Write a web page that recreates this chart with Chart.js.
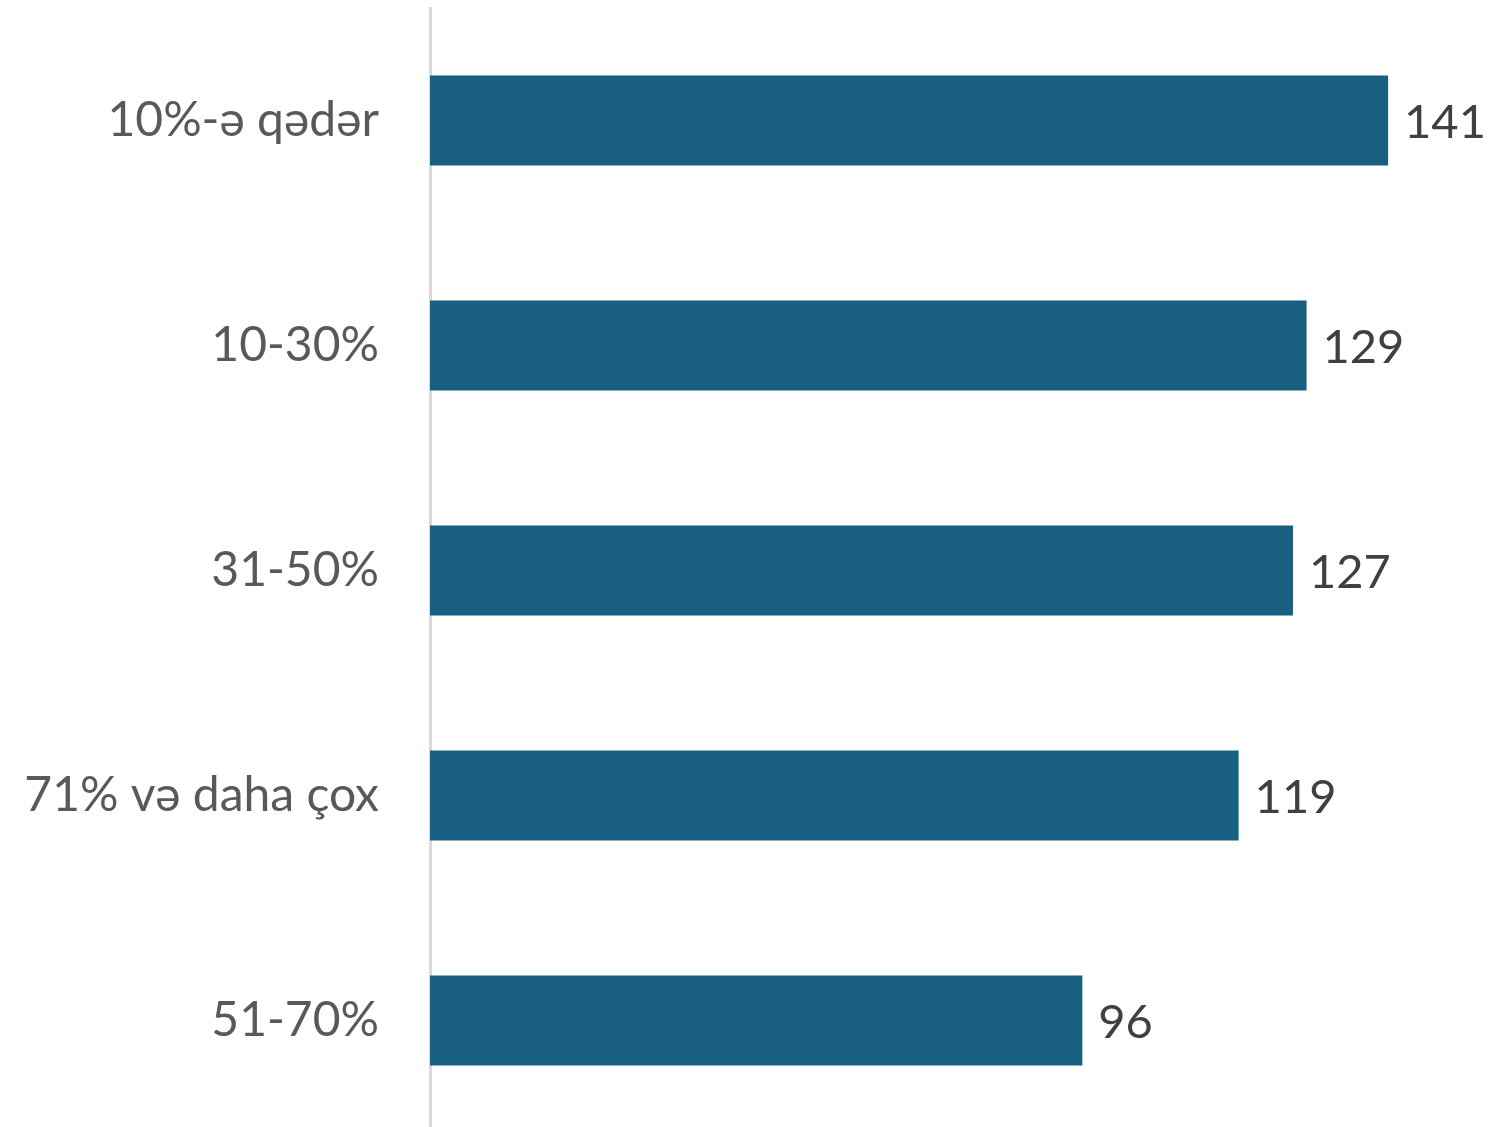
<!DOCTYPE html>
<html>
<head>
<meta charset="utf-8">
<script src="https://cdn.jsdelivr.net/npm/chart.js@4"></script>
<style>
  html, body { margin: 0; padding: 0; background: #fff; overflow: hidden; }
  #wrap { width: 1488px; height: 1133px; }
</style>
</head>
<body>
<div id="wrap"><canvas id="barChart"></canvas></div>
<script>
const categories = ['10%-ə qədər', '10-30%', '31-50%', '71% və daha çox', '51-70%'];
const counts = [141, 129, 127, 119, 96];
const axisMax = 155.7;

const fontFamily = 'Lato, "Open Sans", "DejaVu Sans", sans-serif';

// değerleri çubukların sağına yaz
const valueLabels = {
    id: 'valueLabels',
    afterDatasetsDraw(chart) {
        const ctx = chart.ctx;
        const meta = chart.getDatasetMeta(0);
        ctx.save();
        ctx.font = '47px ' + fontFamily;
        ctx.fillStyle = '#404040';
        ctx.textAlign = 'left';
        ctx.textBaseline = 'middle';
        meta.data.forEach((bar, i) => {
            ctx.fillText(String(counts[i]), bar.x + 16, bar.y + 2);
        });
        ctx.restore();
    }
};

new Chart(document.getElementById('barChart'), {
    type: 'bar',
    data: {
        labels: categories,
        datasets: [{
            data: counts,
            backgroundColor: '#185f81',
            borderWidth: 0,
            categoryPercentage: 1,
            barPercentage: 0.4
        }]
    },
    options: {
        indexAxis: 'y',
        responsive: true,
        maintainAspectRatio: false,
        animation: false,
        layout: { padding: { top: 8, right: 0, bottom: 0, left: 0 } },
        plugins: {
            legend: { display: false },
            tooltip: { enabled: false }
        },
        scales: {
            x: {
                display: false,
                min: 0,
                max: axisMax
            },
            y: {
                afterFit(scale) {
                    scale.width = 430;
                    scale.paddingTop = 0;
                    scale.paddingBottom = 0;
                },
                grid: { display: false, drawTicks: false },
                border: { display: true, color: '#d9d9d9', width: 3 },
                ticks: {
                    padding: 51,
                    color: '#595959',
                    font: { family: fontFamily, size: 48 }
                }
            }
        }
    },
    plugins: [valueLabels]
});
</script>
</body>
</html>
